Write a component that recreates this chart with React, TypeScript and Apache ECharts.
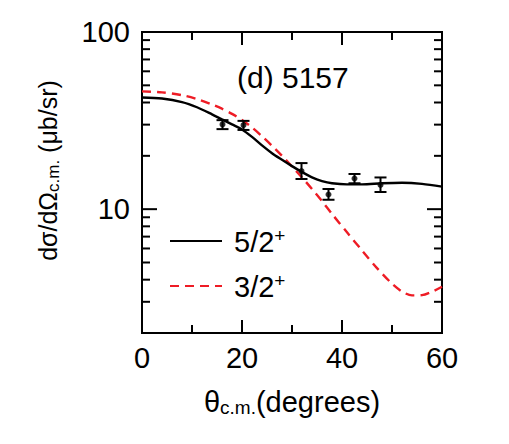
import React, { useEffect, useRef } from "react";
import * as echarts from "echarts";

// Calculated angular distributions (theta in degrees, cross section in ub/sr)
const thetaFit52 = [0, 4, 8, 11, 14, 16, 18, 20, 22, 24, 26, 28, 30, 32, 34, 36, 38, 41, 44, 48, 52, 56, 60];
const sigmaFit52 = [42.7, 42.1, 40.2, 37.6, 34.3, 32.1, 30.1, 28.2, 25.6, 22.9, 20.7, 19.0, 17.5, 16.2, 15.1, 14.4, 14.0, 13.8, 13.8, 14.0, 14.1, 13.9, 13.4];

const thetaFit32 = [0, 4, 8, 11, 14, 16, 18, 20, 22, 24, 26, 28, 30, 32, 34, 36, 38, 41, 44, 47, 50, 52, 54, 56, 58, 60];
const sigmaFit32 = [46.2, 45.6, 44.0, 41.8, 39.0, 36.9, 34.5, 31.9, 28.9, 25.8, 22.8, 20.0, 17.4, 15.1, 13.0, 11.1, 9.4, 7.4, 5.85, 4.65, 3.8, 3.43, 3.26, 3.27, 3.42, 3.65];

// Measured points with uncertainties
const thetaData = [16.1, 20.3, 31.9, 37.3, 42.5, 47.7];
const sigmaData = [30.1, 29.8, 16.4, 12.1, 14.9, 13.7];
const sigmaLow = [28.3, 28.0, 14.8, 11.3, 14.0, 12.5];
const sigmaHigh = [31.8, 31.5, 18.2, 13.0, 15.8, 15.1];

// Log-axis tick positions (majors at powers of ten)
const yTickValues = [3, 4, 5, 6, 7, 8, 9, 10, 20, 30, 40, 50, 60, 70, 80, 90];

const seriesNames = ["5/2+", "3/2+"];
const panelLabel = "(d) 5157";

const FONT = "Liberation Sans, Arial, Helvetica, sans-serif";
const RED = "#ee1c25";

export default function App() {
  const ref = useRef<HTMLDivElement>(null);

  useEffect(() => {
    if (!ref.current) return;
    const chart = echarts.init(ref.current, undefined, { renderer: "svg" });

    const isDecade = (v: number) => {
      const l = Math.log10(v);
      return Math.abs(l - Math.round(l)) < 1e-6 && v >= 10;
    };

    const xAxisCommon = {
      type: "value" as const,
      min: 0,
      max: 60,
      interval: 20,
      axisLine: { show: true, lineStyle: { color: "#000", width: 2 } },
      axisTick: { show: true, inside: true, length: 13, lineStyle: { color: "#000", width: 2 } },
      minorTick: { show: true, splitNumber: 2, length: 8, lineStyle: { color: "#000", width: 2 } },
      splitLine: { show: false },
      minorSplitLine: { show: false },
    };

    const option: any = {
      animation: false,
      backgroundColor: "#fff",
      title: {
        text: panelLabel,
        left: 237,
        top: 62,
        padding: 0,
        textStyle: { fontSize: 30, fontWeight: "normal", fontFamily: FONT, color: "#000" },
      },
      grid: {
        left: 142,
        top: 32,
        width: 300,
        height: 301,
        show: true,
        borderColor: "#000",
        borderWidth: 2,
        backgroundColor: "transparent",
      },
      legend: {
        orient: "vertical",
        left: 164,
        top: 214,
        itemWidth: 52,
        itemHeight: 14,
        itemGap: 8,
        data: seriesNames,
        selectedMode: false,
        itemStyle: { color: "rgba(0,0,0,0)", borderWidth: 0, opacity: 0 },
        formatter: (name: string) => `{n|${name.replace("+", "")}}{p|+}`,
        textStyle: {
          color: "#000",
          fontFamily: FONT,
          padding: [0, 0, 0, 7],
          rich: {
            n: { fontSize: 29, fontFamily: FONT, color: "#000", lineHeight: 30, padding: [8, 0, 0, 0], verticalAlign: "bottom" },
            p: { fontSize: 19, fontFamily: FONT, color: "#000", lineHeight: 20, verticalAlign: "top" },
          },
        },
      },
      xAxis: [
        {
          ...xAxisCommon,
          position: "bottom",
          axisLabel: { show: true, fontSize: 29, fontFamily: FONT, color: "#000", margin: 10 },
          name: "{a|θ}{s|c.m.}{a|(degrees)}",
          nameLocation: "middle",
          nameGap: 54,
          nameTextStyle: {
            rich: {
              a: { fontSize: 29, fontFamily: FONT, color: "#000", lineHeight: 30, verticalAlign: "top" },
              s: { fontSize: 19, fontFamily: FONT, color: "#000", lineHeight: 20, padding: [17, 0, 0, 0], verticalAlign: "bottom" },
            },
          },
        },
        {
          ...xAxisCommon,
          position: "top",
          axisLabel: { show: false },
        },
      ],
      yAxis: {
        type: "log",
        logBase: 10,
        min: 2,
        max: 100,
        axisLine: { show: true, lineStyle: { color: "#000", width: 2 } },
        axisTick: { show: false },
        splitLine: { show: false },
        axisLabel: {
          fontSize: 29,
          fontFamily: FONT,
          color: "#000",
          margin: 12,
          formatter: (v: number) => (isDecade(v) ? String(Math.round(v)) : ""),
        },
        name: "{a|dσ/dΩ}{s|c.m.}{a| (μb/sr)}",
        nameLocation: "middle",
        nameRotate: 90,
        nameGap: 80,
        nameTextStyle: {
          padding: [0, 0, 0, 24],
          rich: {
            a: { fontSize: 25, fontFamily: FONT, color: "#000", lineHeight: 27, verticalAlign: "top" },
            s: { fontSize: 17, fontFamily: FONT, color: "#000", lineHeight: 17, padding: [15, 0, 0, 0], verticalAlign: "bottom" },
          },
        },
      },
      series: [
        {
          name: seriesNames[0],
          type: "line",
          xAxisIndex: 0,
          data: thetaFit52.map((t, i) => [t, sigmaFit52[i]]),
          smooth: 0.3,
          showSymbol: false,
          symbol: "none",
          lineStyle: { color: "#000", width: 2.4, type: "solid" },
          itemStyle: { color: "#000" },
          z: 3,
        },
        {
          name: seriesNames[1],
          type: "line",
          xAxisIndex: 0,
          data: thetaFit32.map((t, i) => [t, sigmaFit32[i]]),
          smooth: 0.3,
          showSymbol: false,
          symbol: "none",
          lineStyle: { color: RED, width: 2.4, type: [9, 6] },
          itemStyle: { color: RED },
          z: 2,
        },
        {
          name: "data",
          type: "scatter",
          xAxisIndex: 0,
          data: thetaData.map((t, i) => [t, sigmaData[i]]),
          symbol: "circle",
          symbolSize: 6,
          itemStyle: { color: "#000" },
          z: 5,
        },
        {
          name: "errors",
          type: "custom",
          xAxisIndex: 0,
          data: thetaData.map((t, i) => [t, sigmaLow[i], sigmaHigh[i]]),
          encode: { x: 0, y: [1, 2] },
          z: 4,
          renderItem: (_params: any, api: any) => {
            const x = api.value(0);
            const lo = api.coord([x, api.value(1)]);
            const hi = api.coord([x, api.value(2)]);
            const w = 6;
            const st = { stroke: "#000", lineWidth: 2 };
            return {
              type: "group",
              children: [
                { type: "line", shape: { x1: lo[0], y1: lo[1], x2: hi[0], y2: hi[1] }, style: st },
                { type: "line", shape: { x1: lo[0] - w, y1: lo[1], x2: lo[0] + w, y2: lo[1] }, style: st },
                { type: "line", shape: { x1: hi[0] - w, y1: hi[1], x2: hi[0] + w, y2: hi[1] }, style: st },
              ],
            };
          },
        },
        {
          name: "yticks",
          type: "custom",
          xAxisIndex: 0,
          silent: true,
          clip: false,
          data: yTickValues.map((v) => [0, v]),
          encode: { x: 0, y: 1 },
          z: 6,
          renderItem: (_params: any, api: any) => {
            const v = api.value(1);
            const len = isDecade(v) ? 15 : 8;
            const l = api.coord([0, v]);
            const r = api.coord([60, v]);
            const st = { stroke: "#000", lineWidth: 2 };
            return {
              type: "group",
              children: [
                { type: "line", shape: { x1: l[0], y1: l[1], x2: l[0] + len, y2: l[1] }, style: st },
                { type: "line", shape: { x1: r[0] - len, y1: r[1], x2: r[0], y2: r[1] }, style: st },
              ],
            };
          },
        },
      ],
    };

    chart.setOption(option);
    return () => chart.dispose();
  }, []);

  return (
    <div
      ref={ref}
      style={{ position: "fixed", left: 0, top: 0, width: 509, height: 444, background: "#fff" }}
    />
  );
}
